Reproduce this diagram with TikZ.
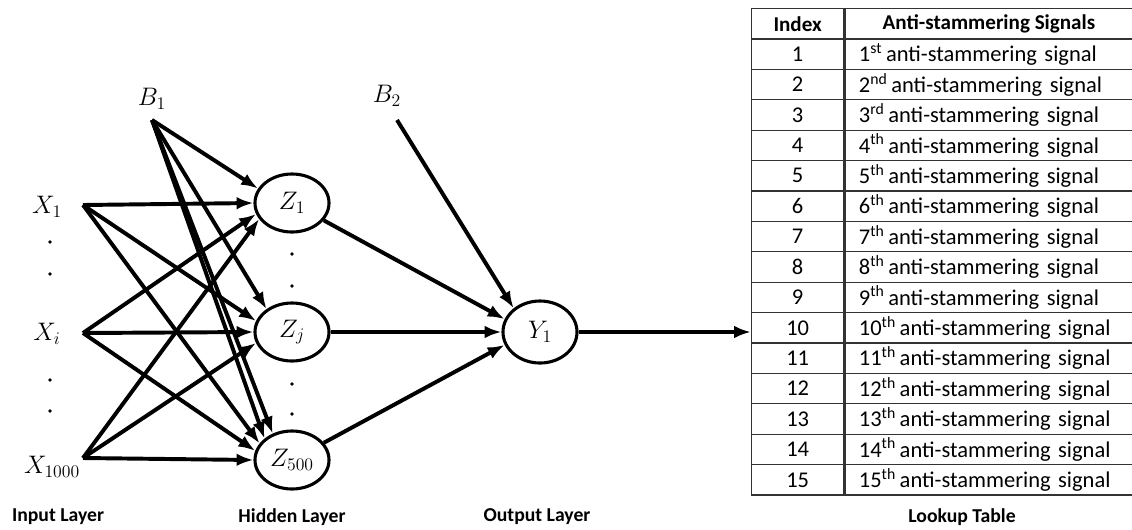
\documentclass[tikz,border=0pt]{standalone}
\usepackage{fix-cm}
\usepackage{fontspec}
\setmainfont{Carlito}
\usetikzlibrary{arrows.meta,positioning,shapes.geometric}
\tikzset{
  conn/.style={line width=2.8pt,-{Latex[length=12pt,width=9pt]}},
  neuron/.style={draw,line width=2.2pt,ellipse,minimum width=1.85cm,minimum height=1.45cm,inner sep=0pt,font=\fontsize{18}{20}\selectfont},
  inlab/.style={font=\fontsize{18}{20}\selectfont},
  cell/.style={draw=black!80,line width=0.9pt,minimum height=0.76cm,inner sep=0pt,anchor=north west,font=\fontsize{16}{18}\selectfont},
  headcell/.style={cell,font=\fontsize{15}{17}\selectfont\bfseries},
  layer/.style={font=\fontsize{14}{16}\selectfont\bfseries}
}
\begin{document}
\begin{tikzpicture}[x=0.025cm,y=-0.025cm]
  \useasboundingbox (0,0) rectangle (1132,529);
  \coordinate (x1) at (83,205);
  \coordinate (xi) at (83,333);
  \coordinate (x1000) at (83,458);
  \coordinate (b1) at (152,120);
  \coordinate (b2) at (397,120);
  \node[inlab] (lx1) at (47,207) {$X_1$};
  \node[inlab] (lxi) at (47,334) {$X_i$};
  \node[inlab] (lx1000) at (52,467) {$X_{1000}$};
  \node[inlab] (lb1) at (152,99) {$B_1$};
  \node[inlab] (lb2) at (387,96) {$B_2$};
  \foreach\y in {242,274,380,411}
    \fill (50,\y) circle (1.8);
  \foreach\y in {254,286,384,414}
    \fill (292,\y) circle (1.8);

  \node[neuron] (z1) at (292,203) {$Z_1$};
  \node[neuron] (zj) at (292,332) {$Z_j$};
  \node[neuron] (z500) at (292,460) {$Z_{500}$};
  \node[neuron,minimum height=1.55cm] (y1) at (540,332) {$Y_1$};

  \foreach\s/\a/\b/\c in {x1/180/163/153,xi/197/180/166,x1000/206/197/180}{
    \draw[conn] (\s) -- (z1.\a);
    \draw[conn] (\s) -- (zj.\b);
    \draw[conn] (\s) -- (z500.\c);
  }
  \foreach\t in {z1.157,zj.138,z500.126,z500.142}
    \draw[conn] (b1) -- (\t);
  \draw[conn] (z1) -- (y1.160);
  \draw[conn] (zj) -- (y1);
  \draw[conn] (z500) -- (y1.200);
  \draw[conn] (b2) -- (y1.138);

  \node[headcell,minimum width=2.3cm] (idx0) at (751,8) {Index};
  \node[headcell,minimum width=7.2cm] (sig0) at (idx0.north east) {Anti-stammering Signals};
  \foreach\n/\sfx in {1/st,2/nd,3/rd,4/th,5/th,6/th,7/th,8/th,9/th,10/th,11/th,12/th,13/th,14/th,15/th}{
    \node[cell,minimum width=2.3cm] (idx\n) at (751,{8+30.4*\n}) {\n};
    \node[cell,minimum width=7.2cm,text width=6.5cm,inner xsep=0.35cm,align=left] (sig\n) at (idx\n.north east) {\n\textsuperscript{\sfx}\,anti-stammering signal};
  }
  \draw[conn] (y1.east) -- (y1.east -| idx10.west);

  \node[layer] (linput) at (58,517) {Input Layer};
  \node[layer] (lhidden) at (292,517) {Hidden Layer};
  \node[layer] (loutput) at (537,517) {Output Layer};
  \node[layer] (ltable) at (962,517) {Lookup Table};
\end{tikzpicture}
\end{document}
